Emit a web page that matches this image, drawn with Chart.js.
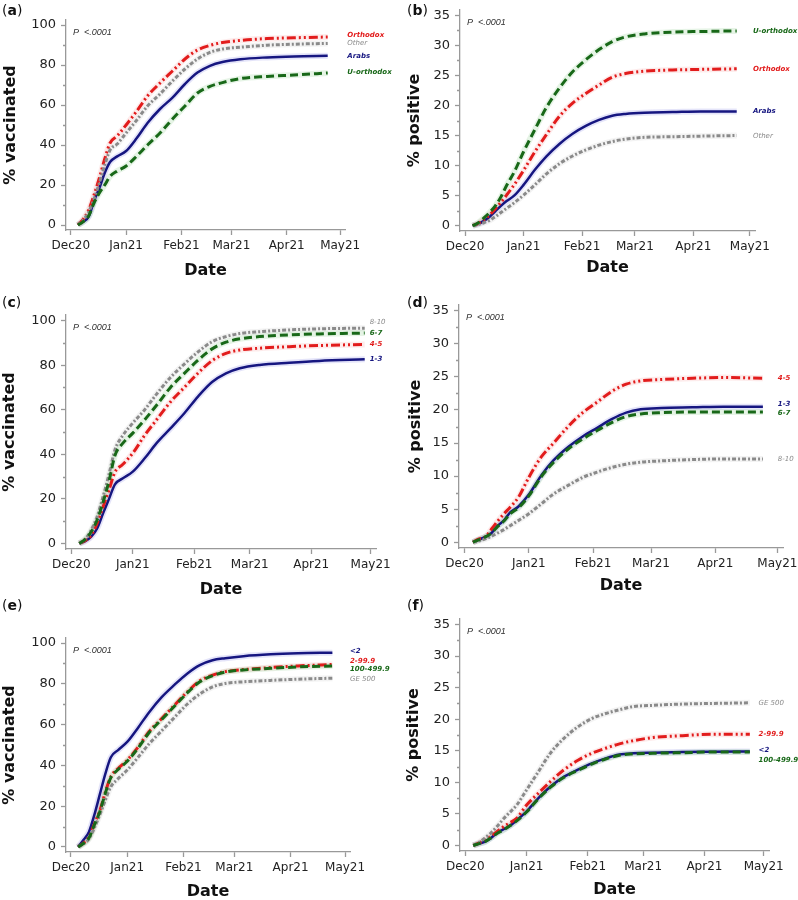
<!DOCTYPE html>
<html>
<head>
<meta charset="utf-8">
<title>Cumulative vaccination and positivity</title>
<script src="https://cdn.jsdelivr.net/npm/chart.js@4.4.0/dist/chart.umd.min.js"></script>
<style>
  body { margin: 0; background: #fff; }
  #wrap { position: relative; width: 798px; height: 900px; overflow: hidden; }
  #wrap canvas { position: absolute; }
  .tag { position: absolute; font-family: "DejaVu Sans", sans-serif; font-size: 14px; line-height: 14px; color: #111; }
</style>
</head>
<body>
<div id="wrap">
  <canvas id="pa" width="400" height="290" style="left:0px;top:0px"></canvas>
  <canvas id="pb" width="398" height="290" style="left:400px;top:0px"></canvas>
  <canvas id="pc" width="400" height="310" style="left:0px;top:290px"></canvas>
  <canvas id="pd" width="398" height="310" style="left:400px;top:290px"></canvas>
  <canvas id="pe" width="400" height="300" style="left:0px;top:600px"></canvas>
  <canvas id="pf" width="398" height="300" style="left:400px;top:600px"></canvas>
  <div class="tag" style="left:2px;top:3px">(<b>a</b>)</div>
  <div class="tag" style="left:407px;top:3px">(<b>b</b>)</div>
  <div class="tag" style="left:2px;top:295px">(<b>c</b>)</div>
  <div class="tag" style="left:407px;top:295px">(<b>d</b>)</div>
  <div class="tag" style="left:2px;top:598px">(<b>e</b>)</div>
  <div class="tag" style="left:407px;top:598px">(<b>f</b>)</div>
</div>
<script>
// days since 1 Dec 2020
var days  = [4, 7, 10, 13, 16, 19, 22, 26, 31, 37, 43, 50, 57, 64, 71, 78, 85, 95, 110, 125, 144];
var daysC = [4, 7, 10, 13, 16, 19, 22, 26, 31, 37, 43, 50, 57, 64, 71, 78, 85, 95, 110, 125, 148];
var monthDays = [0, 31, 62, 90, 121, 151];
var monthLabels = ['Dec20', 'Jan21', 'Feb21', 'Mar21', 'Apr21', 'May21'];
var vaccTicks = [0, 20, 40, 60, 80, 100];
var vaccMinor = [10, 30, 50, 70, 90];
var posTicks = [0, 5, 10, 15, 20, 25, 30, 35];
var posMinor = [2.5, 7.5, 12.5, 17.5, 22.5, 27.5, 32.5];

// (a) population group - % vaccinated
var orthoA = [0, 3, 7.5, 15, 23.5, 33, 41, 44.5, 50, 57, 64.5, 71, 77, 83, 87.5, 89.8, 91.2, 92.3, 93.2, 93.6, 94];
var otherA = [0, 2.5, 6.5, 13, 21, 30, 37.5, 40.5, 46, 52.5, 59.5, 65.5, 72, 78, 83, 86.3, 88, 88.9, 89.9, 90.4, 90.8];
var arabsA = [0, 1.7, 4.2, 12, 18.5, 26, 31.5, 34.3, 37, 43.5, 51, 58, 63.7, 70.5, 76.2, 79.6, 81.5, 82.9, 83.8, 84.3, 84.6];
var uorthA = [0, 1.7, 4.5, 11, 16, 20, 24.3, 27, 29.5, 34.5, 40, 46, 53, 59.5, 66, 69.3, 71.2, 73.2, 74.3, 75, 76];

// (b) population group - % positive
var uorthB = [0, 0.5, 1.3, 2.2, 3.3, 4.8, 6.7, 8.9, 12.3, 16, 19.6, 22.9, 25.6, 27.6, 29.3, 30.6, 31.4, 31.9, 32.2, 32.3, 32.4];
var orthoB = [0, 0.4, 1.0, 1.8, 2.8, 3.9, 5.1, 6.8, 9.2, 12.3, 15.1, 18.2, 20.4, 22, 23.4, 24.7, 25.3, 25.7, 25.9, 26, 26.1];
var arabsB = [0, 0.3, 0.8, 1.5, 2.4, 3.3, 4.1, 5, 6.8, 9.3, 11.5, 13.6, 15.3, 16.6, 17.6, 18.3, 18.6, 18.8, 18.9, 19, 19];
var otherB = [0, 0.2, 0.5, 0.9, 1.5, 2.2, 2.9, 3.8, 5.1, 6.8, 8.6, 10.3, 11.6, 12.6, 13.4, 14, 14.4, 14.7, 14.8, 14.9, 15];

// (c) SES cluster - % vaccinated
var ses810C = [0, 2, 6, 12, 21, 31, 42, 48.5, 54, 60, 67, 74.5, 80.5, 86, 90.5, 92.8, 94.2, 95, 95.8, 96.3, 96.6];
var ses67C  = [0, 1.8, 5.2, 10.5, 18.5, 28, 39.5, 45, 49.5, 55.5, 62, 70, 76.3, 82.3, 87.3, 90.3, 91.8, 92.8, 93.6, 94, 94.4];
var ses45C  = [0, 1.3, 3.7, 9, 16.5, 24, 32, 35.5, 40.5, 48.5, 55.5, 63.5, 70, 76.5, 82, 85.3, 86.8, 87.6, 88.3, 88.8, 89.3];
var ses13C  = [0, 1, 3, 6.7, 13.5, 20, 26.5, 29.2, 32.2, 38.2, 45, 51.6, 58.4, 66, 72.4, 76.3, 78.6, 80.1, 81.1, 81.9, 82.6];

// (d) SES cluster - % positive
var ses45D  = [0, 0.5, 0.8, 2, 3.2, 4.3, 5.3, 6.8, 9.8, 12.9, 15, 17.5, 19.6, 21.2, 22.8, 23.9, 24.4, 24.6, 24.8, 24.9, 24.8];
var ses13D  = [0, 0.4, 0.8, 1.4, 2.5, 3.3, 4.5, 5.4, 7.2, 10.1, 12.4, 14.4, 16, 17.3, 18.6, 19.6, 20.1, 20.3, 20.4, 20.5, 20.5];
var ses67D  = [0, 0.4, 0.8, 1.4, 2.4, 3.2, 4.3, 5.2, 7.0, 9.9, 12.1, 14.1, 15.6, 16.9, 18.1, 19, 19.4, 19.6, 19.7, 19.7, 19.7];
var ses810D = [0, 0.2, 0.5, 0.9, 1.4, 1.9, 2.5, 3.3, 4.3, 5.8, 7.3, 8.6, 9.8, 10.6, 11.3, 11.8, 12.1, 12.3, 12.5, 12.6, 12.6];

// (e) locality size - % vaccinated
var lt2E   = [0, 3.5, 7.5, 16, 26, 36, 44, 47.5, 51.5, 58.5, 66, 73.5, 79.5, 85, 89.2, 91.6, 92.6, 93.6, 94.5, 95, 95.3];
var s2E    = [0, 2, 5, 11.5, 18, 27, 34.5, 38.5, 42.5, 49, 56.5, 63, 69.5, 76, 81.5, 84.3, 86, 87, 88, 88.8, 89.5];
var s100E  = [0, 1.8, 4.5, 11, 17.5, 26.5, 34, 38, 42, 48.5, 56, 62.5, 69, 75.5, 81, 84, 85.8, 86.8, 87.6, 88.3, 88.8];
var ge500E = [0, 1.5, 4, 9.5, 16, 23, 29.5, 33.5, 37.7, 44, 50.5, 57, 63.5, 70, 75, 78.5, 80.2, 81, 81.7, 82.3, 82.8];

// (f) locality size - % positive
var ge500F = [0, 0.5, 1.2, 2, 3, 4.1, 5.1, 6.4, 8.8, 11.7, 14.6, 17, 18.8, 20.1, 20.9, 21.5, 22, 22.2, 22.4, 22.5, 22.6];
var s2F    = [0, 0.4, 0.9, 1.5, 2.2, 2.9, 3.5, 4.3, 6.4, 8.3, 10.1, 12, 13.5, 14.6, 15.4, 16.1, 16.6, 17.1, 17.4, 17.6, 17.6];
var lt2F   = [0, 0.3, 0.6, 1.2, 2, 2.5, 3, 4, 5.4, 7.5, 9.3, 10.9, 12, 13, 13.8, 14.4, 14.6, 14.7, 14.8, 14.85, 14.9];
var s100F  = [0, 0.3, 0.6, 1.2, 1.9, 2.4, 3, 3.9, 5.3, 7.4, 9.2, 10.8, 11.9, 12.9, 13.7, 14.3, 14.5, 14.6, 14.7, 14.8, 14.8];

var styles = {
	navy:  { color: 'rgb(22,22,128)',   halo: 'rgba(90,90,220,0.16)',   dash: [],                 width: 2.5, order: 4, bold: true },
	red:   { color: 'rgb(226,28,28)',   halo: 'rgba(240,110,110,0.14)', dash: [9, 3, 2, 3, 2, 3], width: 3,   order: 3, bold: true },
	gray:  { color: 'rgb(138,138,138)', halo: 'rgba(170,170,170,0.14)', dash: [4, 2, 2, 2],       width: 3,   order: 2, bold: false },
	green: { color: 'rgb(24,104,24)',   halo: 'rgba(90,180,90,0.15)',   dash: [8, 4],             width: 3,   order: 1, bold: true }
};

var panels = [
	{ id: 'pa', area: [66, 345, 20, 230], dateY: 270.5, titlePad: 2.5, yTitle: '% vaccinated',
	  yMin: -2.5, yMax: 102.5, ticks: vaccTicks, minor: vaccMinor, x: days, labelDay: 155,
	  series: [
		{ name: 'Orthodox', style: 'red', data: orthoA, dy: -2 },
		{ name: 'Other', style: 'gray', data: otherA, dy: 0 },
		{ name: 'Arabs', style: 'navy', data: arabsA, dy: 0 },
		{ name: 'U-orthodox', style: 'green', data: uorthA, dy: -1 }
	  ] },
	{ id: 'pb', area: [60, 355, 10, 231], dateY: 268.3, titlePad: 7, yTitle: '% positive',
	  yMin: -0.875, yMax: 35.875, ticks: posTicks, minor: posMinor, x: days, labelDay: 152.6,
	  series: [
		{ name: 'U-orthodox', style: 'green', data: uorthB, dy: 0 },
		{ name: 'Orthodox', style: 'red', data: orthoB, dy: 0 },
		{ name: 'Arabs', style: 'navy', data: arabsB, dy: 0 },
		{ name: 'Other', style: 'gray', data: otherB, dy: 1 }
	  ] },
	{ id: 'pc', area: [66, 376, 25, 259], dateY: 299.7, titlePad: 2, yTitle: '% vaccinated',
	  yMin: -2.5, yMax: 102.5, ticks: vaccTicks, minor: vaccMinor, x: daysC, labelDay: 150.5,
	  series: [
		{ name: '8-10', style: 'gray', data: ses810C, dy: -6 },
		{ name: '6-7', style: 'green', data: ses67C, dy: 0 },
		{ name: '4-5', style: 'red', data: ses45C, dy: 0 },
		{ name: '1-3', style: 'navy', data: ses13C, dy: 0 }
	  ] },
	{ id: 'pd', area: [59, 383, 15, 258], dateY: 295.8, titlePad: 7.5, yTitle: '% positive',
	  yMin: -0.875, yMax: 35.875, ticks: posTicks, minor: posMinor, x: days, labelDay: 151.2,
	  series: [
		{ name: '4-5', style: 'red', data: ses45D, dy: 0 },
		{ name: '1-3', style: 'navy', data: ses13D, dy: -2.5 },
		{ name: '6-7', style: 'green', data: ses67D, dy: 1 },
		{ name: '8-10', style: 'gray', data: ses810D, dy: 0 }
	  ] },
	{ id: 'pe', area: [66, 350, 38, 252], dateY: 291.7, titlePad: 2, yTitle: '% vaccinated',
	  yMin: -2.5, yMax: 102.5, ticks: vaccTicks, minor: vaccMinor, x: days, labelDay: 153.7,
	  series: [
		{ name: '<2', style: 'navy', data: lt2E, dy: -1.7 },
		{ name: '2-99.9', style: 'red', data: s2E, dy: -3.5 },
		{ name: '100-499.9', style: 'green', data: s100E, dy: 3 },
		{ name: 'GE 500', style: 'gray', data: ge500E, dy: 1 }
	  ] },
	{ id: 'pf', area: [60, 369, 19, 251], dateY: 289.7, titlePad: 6, yTitle: '% positive',
	  yMin: -0.875, yMax: 35.875, ticks: posTicks, minor: posMinor, x: days, labelDay: 148.4,
	  series: [
		{ name: 'GE 500', style: 'gray', data: ge500F, dy: 0 },
		{ name: '2-99.9', style: 'red', data: s2F, dy: 0 },
		{ name: '<2', style: 'navy', data: lt2F, dy: -1 },
		{ name: '100-499.9', style: 'green', data: s100F, dy: 8 }
	  ] }
];

var axisColor = '#999999';
var halfTitle = 8; // title font 16px, lineHeight 1

function points(xs, ys) {
	var out = [];
	for (var i = 0; i < xs.length; i++) {
		out.push({ x: xs[i], y: ys[i] });
	}
	return out;
}

// minor ticks, P value and end-of-line labels
var extras = {
	id: 'extras',
	afterDraw: function(chart, args, p) {
		var ctx = chart.ctx;
		var xs = chart.scales.x, ys = chart.scales.y;
		var area = chart.chartArea;
		ctx.save();
		ctx.strokeStyle = axisColor;
		ctx.lineWidth = 1.3;
		ctx.beginPath();
		p.minor.forEach(function(v) {
			var py = Math.round(ys.getPixelForValue(v)) + 0.5;
			ctx.moveTo(area.left - 3, py);
			ctx.lineTo(area.left, py);
		});
		ctx.stroke();

		ctx.fillStyle = '#333';
		ctx.font = 'italic 9px "Liberation Sans", Arial, sans-serif';
		ctx.textBaseline = 'middle';
		ctx.textAlign = 'left';
		ctx.fillText('P  <.0001', area.left + 7, area.top + 12);

		var lx = xs.getPixelForValue(p.labelDay);
		p.series.forEach(function(s) {
			var st = styles[s.style];
			var last = s.data[s.data.length - 1];
			ctx.font = 'italic ' + (st.bold ? 'bold ' : '') + '7px "DejaVu Sans", sans-serif';
			ctx.fillStyle = st.color;
			ctx.fillText(s.name, lx, ys.getPixelForValue(last) + s.dy);
		});
		ctx.restore();
	}
};

panels.forEach(function(p) {
	var canvas = document.getElementById(p.id);
	var W = canvas.width, H = canvas.height;
	var L = p.area[0], R = p.area[1], T = p.area[2], B = p.area[3];
	var xh = p.dateY - B + halfTitle;

	var datasets = [];
	p.series.forEach(function(s) {
		var st = styles[s.style];
		var pts = points(p.x, s.data);
		datasets.push({
			label: s.name + ' band',
			data: pts,
			borderColor: st.halo,
			borderWidth: 6,
			pointRadius: 0,
			cubicInterpolationMode: 'monotone',
			order: 10 + st.order
		});
		datasets.push({
			label: s.name,
			data: pts,
			borderColor: st.color,
			borderWidth: st.width,
			borderDash: st.dash,
			pointRadius: 0,
			cubicInterpolationMode: 'monotone',
			order: st.order
		});
	});

	new Chart(canvas, {
		type: 'line',
		data: { datasets: datasets },
		options: {
			responsive: false,
			animation: false,
			events: [],
			layout: { padding: { left: 0, top: T, right: W - R, bottom: H - B - xh } },
			plugins: {
				legend: { display: false },
				tooltip: { enabled: false },
				extras: p
			},
			scales: {
				x: {
					type: 'linear',
					min: -2.7,
					max: 153.7,
					grid: { display: true, drawOnChartArea: false, drawTicks: true, tickLength: 5, tickColor: axisColor, tickWidth: 1.3 },
					border: { display: true, color: axisColor, width: 1.3 },
					ticks: {
						color: '#222',
						padding: 4,
						maxRotation: 0,
						autoSkip: false,
						font: { family: 'DejaVu Sans', size: 12 },
						callback: function(value) {
							var i = monthDays.indexOf(value);
							return i >= 0 ? monthLabels[i] : '';
						}
					},
					title: {
						display: true,
						text: 'Date',
						color: '#111',
						padding: { top: 0, bottom: 0 },
						font: { family: 'DejaVu Sans', size: 16, weight: 'bold', lineHeight: 1 }
					},
					afterBuildTicks: function(scale) {
						scale.ticks = monthDays.map(function(v) { return { value: v }; });
					},
					afterFit: function(scale) {
						scale.height = xh;
						scale.paddingLeft = 0;
						scale.paddingRight = 0;
					}
				},
				y: {
					type: 'linear',
					min: p.yMin,
					max: p.yMax,
					grid: { display: true, drawOnChartArea: false, drawTicks: true, tickLength: 5, tickColor: axisColor, tickWidth: 1.3 },
					border: { display: true, color: axisColor, width: 1.3 },
					ticks: {
						color: '#222',
						padding: 5,
						font: { family: 'DejaVu Sans', size: 13 },
						callback: function(value) { return String(value); }
					},
					title: {
						display: true,
						text: p.yTitle,
						color: '#111',
						padding: { top: p.titlePad, bottom: 0 },
						font: { family: 'DejaVu Sans', size: 16, weight: 'bold', lineHeight: 1 }
					},
					afterBuildTicks: function(scale) {
						scale.ticks = p.ticks.map(function(v) { return { value: v }; });
					},
					afterFit: function(scale) {
						scale.width = L;
						scale.paddingTop = 0;
						scale.paddingBottom = 0;
					}
				}
			}
		},
		plugins: [extras]
	});
});
</script>
</body>
</html>
